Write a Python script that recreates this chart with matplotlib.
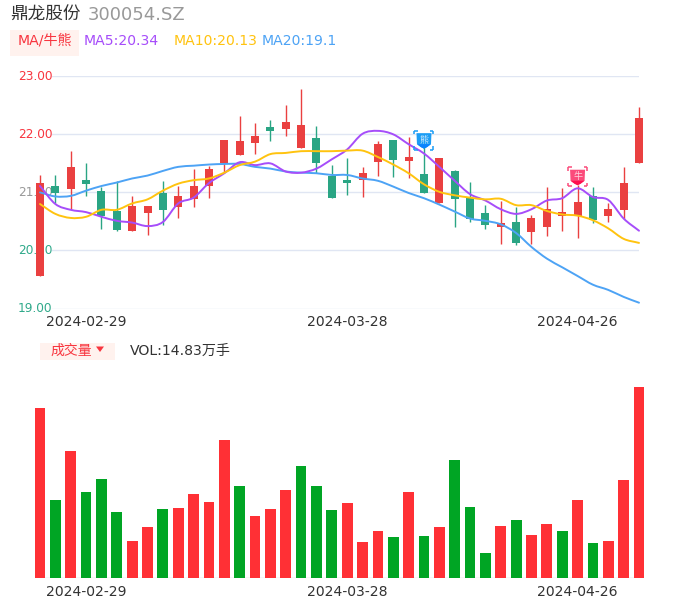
#!/usr/bin/env python3
"""Daily candles with moving averages and a volume panel for 300054.SZ."""

import matplotlib
matplotlib.use("Agg")
import matplotlib.pyplot as plt
from matplotlib.patches import PathPatch, Rectangle
from matplotlib.path import Path
from matplotlib.transforms import blended_transform_factory
import numpy as np

plt.rcParams["font.family"] = ["DejaVu Sans", "Noto Sans CJK SC"]

W, H = 686, 606

# one entry per trading day
opens = [19.56, 21.11, 21.06, 21.21, 21.02, 20.68, 20.34, 20.64, 20.99, 20.75,
         20.89, 21.11, 21.50, 21.65, 21.85, 22.13, 22.09, 21.76, 21.93, 21.29,
         21.22, 21.22, 21.52, 21.90, 21.54, 21.32, 20.81, 21.37, 20.90, 20.64,
         20.40, 20.49, 20.31, 20.40, 20.60, 20.60, 20.94, 20.60, 20.70, 21.50]
closes = [21.16, 20.99, 21.43, 21.15, 20.60, 20.35, 20.76, 20.76, 20.70, 20.94,
          21.11, 21.41, 21.91, 21.89, 21.98, 22.06, 22.21, 22.16, 21.51, 20.90,
          21.16, 21.33, 21.84, 21.56, 21.61, 20.99, 21.59, 20.88, 20.55, 20.43,
          20.48, 20.12, 20.56, 20.72, 20.66, 20.84, 20.53, 20.71, 21.16, 22.29]
highs = [21.30, 21.30, 21.71, 21.51, 21.10, 21.19, 20.93, 20.76, 21.19, 21.11,
         21.41, 21.46, 21.91, 22.31, 22.20, 22.25, 22.51, 22.78, 22.14, 21.47,
         21.59, 21.43, 21.88, 21.90, 21.95, 21.79, 21.59, 21.39, 21.18, 20.78,
         20.86, 20.75, 20.61, 21.10, 21.07, 21.13, 21.09, 20.81, 21.44, 22.47]
lows = [19.56, 20.82, 20.72, 20.93, 20.37, 20.34, 20.34, 20.26, 20.43, 20.56,
        20.75, 20.90, 21.33, 21.65, 21.67, 21.89, 21.97, 21.76, 21.33, 20.90,
        20.95, 20.92, 21.28, 21.26, 21.24, 20.99, 20.81, 20.41, 20.49, 20.37,
        20.11, 20.09, 20.11, 20.25, 20.33, 20.21, 20.47, 20.49, 20.55, 21.50]
ma5 = [21.11, 20.80, 20.70, 20.66, 20.58, 20.51, 20.48, 20.42, 20.49, 20.81,
       20.91, 21.16, 21.33, 21.52, 21.47, 21.50, 21.36, 21.34, 21.41, 21.57,
       21.74, 22.01, 22.06, 22.00, 21.83, 21.67, 21.44, 21.20, 20.97, 20.86,
       20.71, 20.63, 20.71, 20.86, 20.90, 21.07, 20.92, 20.87, 20.55, 20.34]
ma10 = [20.80, 20.63, 20.56, 20.58, 20.70, 20.70, 20.81, 20.88, 21.03, 21.15,
        21.21, 21.24, 21.34, 21.47, 21.53, 21.66, 21.68, 21.71, 21.71, 21.71,
        21.72, 21.72, 21.61, 21.48, 21.33, 21.14, 21.01, 20.95, 20.91, 20.88,
        20.89, 20.78, 20.78, 20.68, 20.62, 20.60, 20.52, 20.38, 20.20, 20.13]
ma20 = [21.00, 20.93, 20.94, 21.03, 21.11, 21.17, 21.24, 21.29, 21.37, 21.44,
        21.46, 21.48, 21.49, 21.49, 21.44, 21.41, 21.36, 21.34, 21.33, 21.30,
        21.30, 21.24, 21.20, 21.10, 20.99, 20.90, 20.79, 20.67, 20.55, 20.51,
        20.45, 20.30, 20.06, 19.86, 19.71, 19.56, 19.41, 19.32, 19.20, 19.10]
# 万手
volumes = [13.22, 6.06, 9.91, 6.73, 7.71, 5.12, 2.90, 3.99, 5.36, 5.43,
           6.52, 5.93, 10.71, 7.17, 4.87, 5.36, 6.83, 8.72, 7.17, 5.31,
           5.82, 2.85, 3.70, 3.21, 6.68, 3.29, 3.99, 9.19, 5.51, 1.94,
           4.06, 4.50, 3.36, 4.22, 3.70, 6.08, 2.72, 2.90, 7.61, 14.83]
vol_up = [1, 0, 1, 0, 0, 0, 1, 1, 0, 1,
          1, 1, 1, 0, 1, 1, 1, 0, 0, 0,
          1, 1, 1, 0, 1, 0, 1, 0, 0, 0,
          1, 0, 1, 1, 0, 1, 0, 1, 1, 1]

price_ticks = [23, 22, 21, 20, 19]
price_labels = ["23.00", "22.00", "21.00", "20.00", "19.00"]
price_colors = ["#f8353f", "#f8353f", "#999999", "#2fa98a", "#2fa98a"]
date_idx = [3, 20, 35]
date_labels = ["2024-02-29", "2024-03-28", "2024-04-26"]
bear_idx, bear_price = 25, 21.90
bull_idx, bull_price = 35, 21.27

UP, DOWN = "#ea4040", "#2aa584"
VOL_UP, VOL_DOWN = "#ff3035", "#00a524"
MA_COLORS = {"ma5": "#a64dfa", "ma10": "#ffc30f", "ma20": "#4da3f5"}
TEXT = "#333333"
GRID = "#e0e6f3"
BADGE = "#fff2ee"


def make_axes(fig, top, bottom, left=40, right=639):
    ax = fig.add_axes([left / W, 1 - bottom / H, (right - left) / W, (bottom - top) / H])
    ax.set_xlim(0, len(closes) - 1)
    ax.axis("off")
    return ax


def smooth_line(ax, values, color):
    # same look as a smoothed line: cubic segments through every value
    y = np.asarray(values)
    x = np.arange(len(y))
    dy = np.gradient(y)
    verts = [(x[0], y[0])]
    codes = [Path.MOVETO]
    for i in range(len(y) - 1):
        verts += [(x[i] + 1 / 3, y[i] + dy[i] / 3),
                  (x[i + 1] - 1 / 3, y[i + 1] - dy[i + 1] / 3),
                  (x[i + 1], y[i + 1])]
        codes += [Path.CURVE4] * 3
    ax.add_patch(PathPatch(Path(verts, codes), fill=False, edgecolor=color, linewidth=1.4,
                           clip_on=False, zorder=5, capstyle="round"))


def draw_icon(fig, cx, cy, color, tip, label):
    # badge with corner brackets, placed in pixels
    ax = fig.add_axes([0, 0, 1, 1], facecolor="none")
    ax.set_xlim(0, W)
    ax.set_ylim(H, 0)
    ax.axis("off")
    ax.set_zorder(6)
    r, t = 9.5, 3.5
    for sx in (-1, 1):
        for sy in (-1, 1):
            ax.plot([cx + sx * r, cx + sx * r], [cy + sy * r, cy + sy * (r - t)],
                    color=color, lw=1.1, solid_capstyle="butt")
            ax.plot([cx + sx * r, cx + sx * (r - t)], [cy + sy * r, cy + sy * r],
                    color=color, lw=1.1, solid_capstyle="butt")
    shield = [(cx - 7.5, cy - 7), (cx + 7.5, cy - 7), (cx + 7, cy + 4), (cx + 3, cy + 7),
              (cx, cy + 8.5), (cx - 3, cy + 7), (cx - 7, cy + 4), (cx - 7.5, cy - 7)]
    ax.fill(*zip(*shield), color=color, lw=0)
    ax.fill(*zip(*shield[2:7]), color=tip, lw=0)
    ax.text(cx, cy, label, color="white", fontsize=6.5, alpha=0.75, ha="center", va="center")


fig = plt.figure(figsize=(W / 100, H / 100), dpi=100)

# price panel
ax = make_axes(fig, 76.3, 308.5)
ax.set_ylim(19, 23)
trans = blended_transform_factory(fig.transFigure, ax.transData)
for tick, label, color in zip(price_ticks, price_labels, price_colors):
    ax.axhline(tick, xmin=12 / 599, color=GRID, linewidth=1, zorder=1)
    ax.text(18 / W, tick, label, color=color, fontsize=8.7, va="center", ha="left",
            transform=trans, zorder=2)

for i, (o, c, hi, lo) in enumerate(zip(opens, closes, highs, lows)):
    color = UP if c >= o else DOWN
    ax.vlines(i, lo, hi, color=color, linewidth=1, zorder=3, clip_on=False)
    ax.bar(i, abs(c - o), bottom=min(o, c), width=0.52, color=color, zorder=4, clip_on=False)

smooth_line(ax, ma20, MA_COLORS["ma20"])
smooth_line(ax, ma5, MA_COLORS["ma5"])
smooth_line(ax, ma10, MA_COLORS["ma10"])

# volume panel
vax = make_axes(fig, 387.3, 578.3)
vax.set_ylim(0, max(volumes))
vax.bar(range(len(volumes)), volumes, width=0.7, clip_on=False, zorder=3,
        color=[VOL_UP if up else VOL_DOWN for up in vol_up])
vax.axhline(0, color="#d5d5d5", linewidth=1, zorder=2)

for panel, y_px in ((ax, 322), (vax, 592)):
    t = blended_transform_factory(panel.transData, fig.transFigure)
    for idx, label in zip(date_idx, date_labels):
        panel.text(idx, 1 - y_px / H, label, color=TEXT, fontsize=10.1, ha="center",
                   va="center", transform=t)

# header texts and badges, in pixels
hdr = fig.add_axes([0, 0, 1, 1], facecolor="none")
hdr.set_xlim(0, W)
hdr.set_ylim(H, 0)
hdr.axis("off")
hdr.add_patch(Rectangle((10, 30), 69, 26, color=BADGE, lw=0))
hdr.add_patch(Rectangle((40, 343), 75, 17, color=BADGE, lw=0))
hdr.text(10, 15, "鼎龙股份", color=TEXT, fontsize=12.7, va="center", weight="medium",
         family=["Noto Sans CJK SC"])
hdr.text(88, 15, "300054.SZ", color="#999999", fontsize=13, va="center")
hdr.text(18, 41, "MA/牛熊", color="#f8353f", fontsize=10.1, va="center")
hdr.text(84, 41, "MA5:20.34", color=MA_COLORS["ma5"], fontsize=10.1, va="center")
hdr.text(174, 41, "MA10:20.13", color=MA_COLORS["ma10"], fontsize=10.1, va="center")
hdr.text(262, 41, "MA20:19.1", color=MA_COLORS["ma20"], fontsize=10.1, va="center")
hdr.text(50, 351, "成交量", color="#f8353f", fontsize=10, va="center", family=["Noto Sans CJK SC"])
hdr.fill([96, 104, 100], [346.5, 346.5, 352], color="#f8353f", lw=0)
hdr.text(130, 351, "VOL:14.83万手", color=TEXT, fontsize=10.1, va="center")

# signal badges sit on the price scale
for idx, price, color, tip, label in ((bear_idx, bear_price, "#1b9df5", "#0a84ff", "熊"),
                                      (bull_idx, bull_price, "#fb4b7b", "#ff0f4f", "牛")):
    px, py = ax.transData.transform((idx, price))
    draw_icon(fig, px / fig.dpi * 100, H - py / fig.dpi * 100, color, tip, label)

fig.savefig("out.png", dpi=100)
